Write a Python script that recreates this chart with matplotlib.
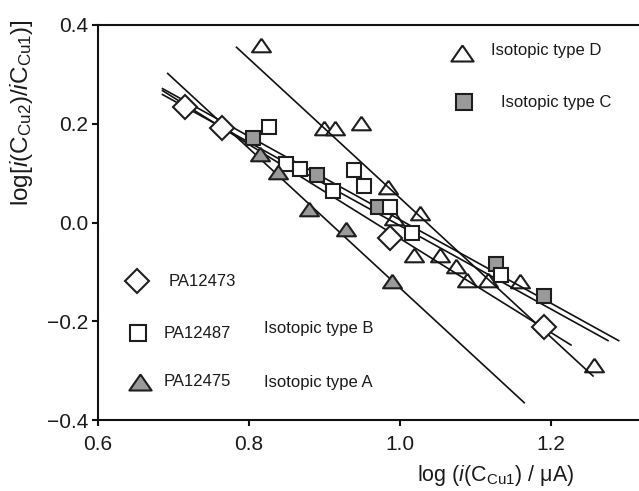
import matplotlib
matplotlib.use("Agg")
import matplotlib.pyplot as plt
import numpy as np

plt.rcParams['font.family'] = ['Liberation Sans', 'DejaVu Sans']
plt.rcParams['mathtext.fontset'] = 'custom'
plt.rcParams['mathtext.rm'] = 'Liberation Sans'
plt.rcParams['mathtext.it'] = 'Liberation Sans:italic'

# ---- data ----
pa12473_x = [0.716, 0.764, 0.987, 1.190]
pa12473_y = [0.234, 0.192, -0.032, -0.212]

typeB_x = [0.827, 0.849, 0.868, 0.911, 0.939, 0.953, 0.987, 1.016, 1.134]
typeB_y = [0.193, 0.118, 0.108, 0.064, 0.106, 0.074, 0.032, -0.021, -0.106]

typeC_x = [0.806, 0.890, 0.971, 1.127, 1.190]
typeC_y = [0.172, 0.096, 0.032, -0.085, -0.148]

typeA_x = [0.815, 0.839, 0.879, 0.929, 0.990]
typeA_y = [0.138, 0.103, 0.027, -0.014, -0.118]

typeD_x = [0.816, 0.900, 0.914, 0.948, 0.984, 0.992, 1.026, 1.019, 1.053,
           1.074, 1.088, 1.117, 1.158, 1.256]
typeD_y = [0.359, 0.191, 0.191, 0.201, 0.072, 0.010, 0.020, -0.066, -0.066,
           -0.088, -0.116, -0.116, -0.118, -0.288]

# fitted lines: (x start, x end, y start, y end)
fit_names = ['D', 'A', 'PA12473', 'C', 'B']
fit_x0 = [0.783, 0.692, 0.685, 0.685, 0.685]
fit_x1 = [1.256, 1.165, 1.227, 1.290, 1.276]
fit_y0 = [0.356, 0.303, 0.268, 0.272, 0.260]
fit_y1 = [-0.312, -0.366, -0.249, -0.240, -0.240]

x_ticks = [0.6, 0.8, 1.0, 1.2]
y_ticks = [-0.4, -0.2, 0.0, 0.2, 0.4]
y_tick_labels = ['\u22120.4', '\u22120.2', '0.0', '0.2', '0.4']

# ---- figure ----
W, H = 639, 491
fig = plt.figure(figsize=(W / 100, H / 100), dpi=100)
L, R, B, T = 97.5, 639, 420, 25
ax = fig.add_axes([L / W, 1 - B / H, (R - L) / W, (B - T) / H])
ax.set_xlim(0.6, 1.316)
ax.set_ylim(-0.4, 0.4)

edge = '#1e1e1e'
gray = '#9a9a9a'
mew = 1.5
tri = [(0, 0.72), (-1, -0.72), (1, -0.72), (0, 0.72)]

ax.plot(typeD_x, typeD_y, linestyle='none', marker=tri, ms=13.6,
        mfc='white', mec=edge, mew=mew, zorder=2)
for x0, x1, y0, y1 in zip(fit_x0, fit_x1, fit_y0, fit_y1):
    ax.plot([x0, x1], [y0, y1], color='#111111', lw=1.2, zorder=3,
            solid_capstyle='butt')
ax.plot(pa12473_x, pa12473_y, linestyle='none', marker='D', ms=12.5,
        mfc='white', mec=edge, mew=mew, zorder=4)
ax.plot(typeC_x, typeC_y, linestyle='none', marker='s', ms=10.4,
        mfc=gray, mec=edge, mew=mew, zorder=4)
ax.plot(typeB_x, typeB_y, linestyle='none', marker='s', ms=10.4,
        mfc='white', mec=edge, mew=mew, zorder=4)
ax.plot(typeA_x, typeA_y, linestyle='none', marker=tri, ms=13.6,
        mfc=gray, mec=edge, mew=mew, zorder=4)

# ---- in-plot legend ----
def px2ax(px, py):
    return (px - L) / (R - L), (B - py) / (B - T)

tc = '#1a1a1a'
fs = 12
legend_items = [
    ((137.3, 280.7), 'D', 12.7, 'white', (168.3, 281), 'PA12473'),
    ((137.7, 333.3), 's', 11.9, 'white', (164, 333), 'PA12487'),
    ((140, 381.7), tri, 16, gray, (164, 382), 'PA12475'),
    ((461.7, 53.3), tri, 16, 'white', (490.7, 50), 'Isotopic type D'),
    ((464, 101.7), 's', 11.9, gray, (501, 102), 'Isotopic type C'),
]
for mpos, mk, ms, fc, tpos, label in legend_items:
    mx, my = px2ax(*mpos)
    ax.plot([mx], [my], transform=ax.transAxes, marker=mk, ms=ms, mfc=fc,
            mec=edge, mew=mew, linestyle='none', clip_on=False, zorder=5)
    tx, ty = px2ax(*tpos)
    ax.text(tx, ty, label, transform=ax.transAxes, fontsize=fs, color=tc,
            ha='left', va='center')
for tpos, label in [((264, 329), 'Isotopic type B'), ((264, 382), 'Isotopic type A')]:
    tx, ty = px2ax(*tpos)
    ax.text(tx, ty, label, transform=ax.transAxes, fontsize=fs, color=tc,
            ha='left', va='center')

# ---- axes styling ----
ax.spines['right'].set_visible(False)
for s in ['left', 'bottom', 'top']:
    ax.spines[s].set_linewidth(1.5)
    ax.spines[s].set_color('#111111')
ax.set_xticks(x_ticks)
ax.set_xticklabels([f'{v:.1f}' for v in x_ticks])
ax.set_yticks(y_ticks)
ax.set_yticklabels(y_tick_labels)
ax.tick_params(axis='both', direction='out', length=4, width=1.5,
               colors='#111111', labelsize=15, labelcolor=tc)
ax.tick_params(axis='x', pad=7)
ax.tick_params(axis='y', pad=2.5)

ax.set_xlabel(r'log ($\mathit{i}$(C$_{\mathrm{Cu1}}$) / μA)', fontsize=15.5,
              color=tc, ha='center', va='center')
ax.xaxis.set_label_coords(*px2ax(496, 476))
ax.set_ylabel(r'log[$\mathit{i}$(C$_{\mathrm{Cu2}}$)/$\mathit{i}$C$_{\mathrm{Cu1}}$)]',
              fontsize=17.5, color=tc, ha='center', va='center')
ax.yaxis.set_label_coords(*px2ax(21.7, 113))

fig.savefig('out.png', dpi=100)
